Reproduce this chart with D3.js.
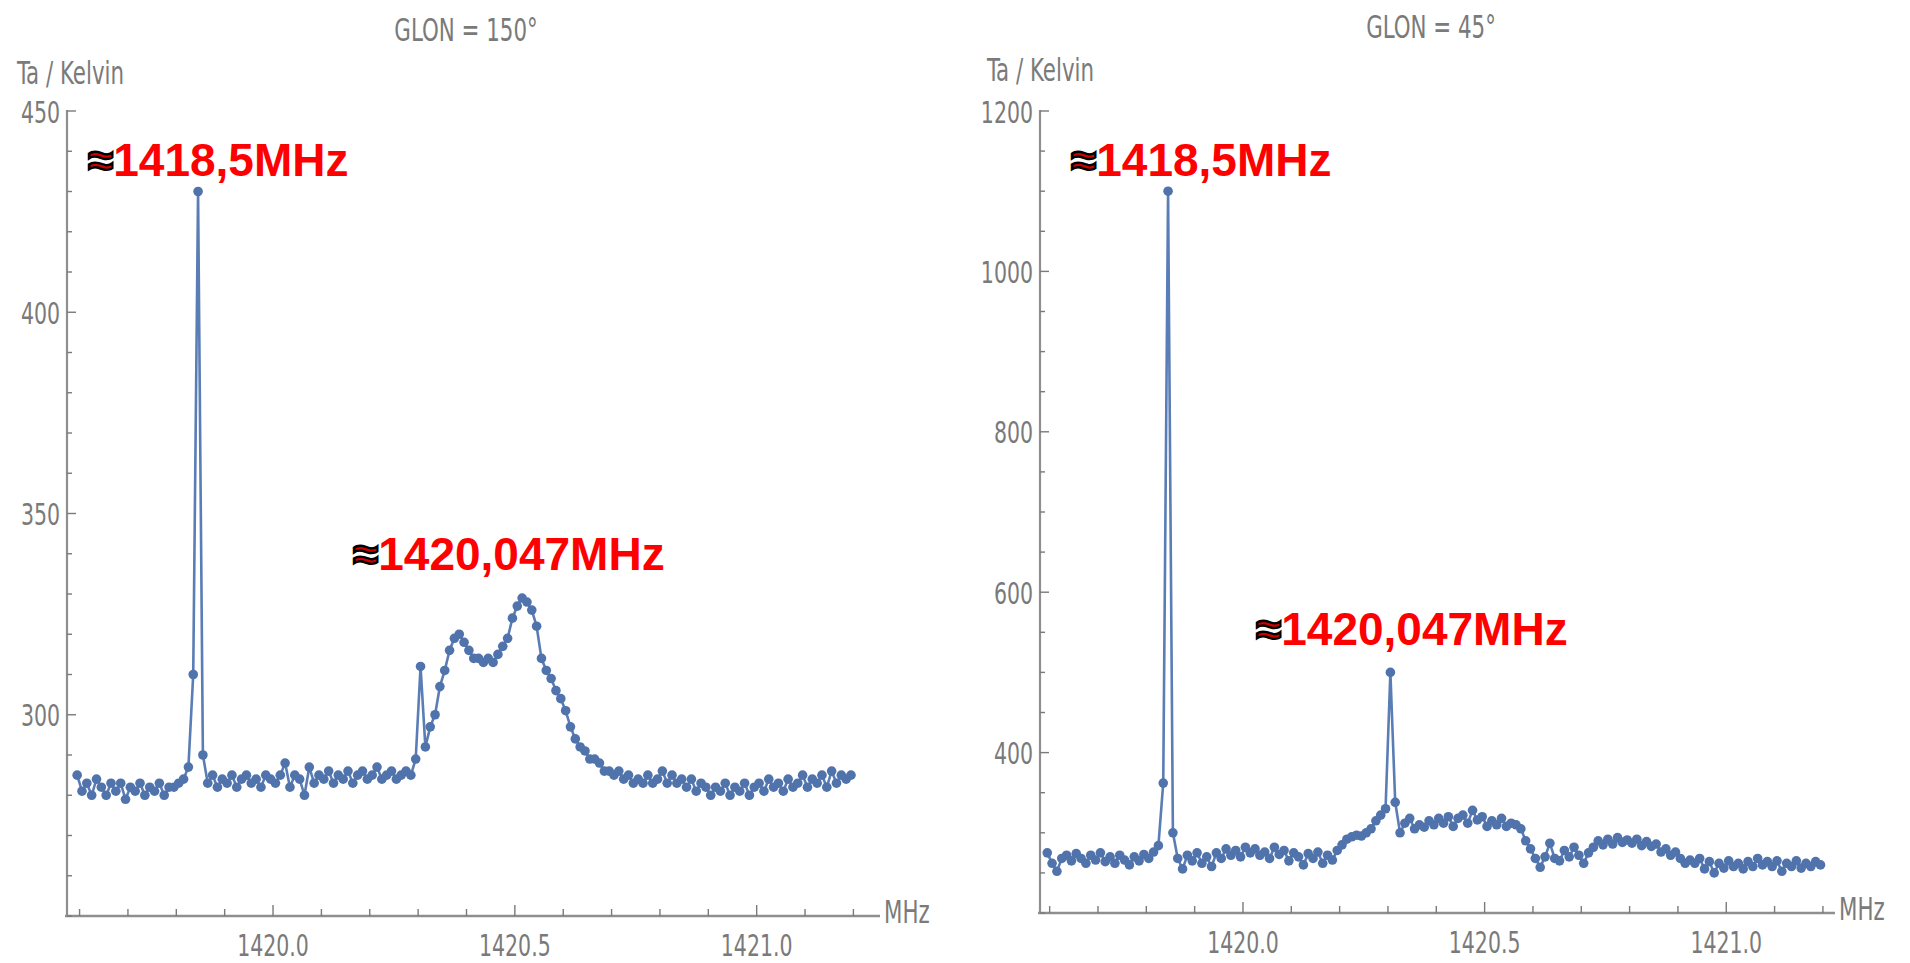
<!DOCTYPE html>
<html>
<head>
<meta charset="utf-8">
<script src="https://cdn.jsdelivr.net/npm/d3@7"></script>
<style>
  html, body { margin: 0; padding: 0; background: #ffffff; }
  svg { display: block; }
</style>
</head>
<body>
<svg id="chart" width="1910" height="963"></svg>
<script>
// ---------------- DATA ----------------
// Frequency channels (MHz): first channel and channel width
const freqStart = 1419.595;
const freqStep = 0.01;

// Antenna temperature (K), GLON = 150°
const ta150 = [
  285, 281, 283, 280, 284, 282, 280, 283, 281, 283,
  279, 282, 281, 283, 280, 282, 281, 283, 280, 282,
  282, 283, 284, 287, 310, 430, 290, 283, 285, 282,
  284, 283, 285, 282, 284, 285, 283, 284, 282, 285,
  284, 283, 285, 288, 282, 285, 284, 280, 287, 283,
  285, 284, 286, 283, 285, 284, 286, 283, 285, 286,
  284, 285, 287, 284, 285, 286, 284, 285, 286, 285,
  289, 312, 292, 297, 300, 307, 311, 316, 319, 320,
  318, 316, 314, 314, 313, 314, 313, 315, 317, 319,
  324, 327, 329, 328, 326, 322, 314, 311, 309, 306,
  304, 301, 297, 294, 292, 291, 289, 289, 288, 286,
  286, 285, 286, 284, 285, 283, 284, 283, 285, 283,
  284, 286, 283, 285, 283, 284, 282, 284, 281, 283,
  282, 280, 282, 281, 283, 280, 282, 281, 283, 280,
  282, 283, 281, 284, 282, 283, 281, 284, 282, 283,
  285, 282, 284, 283, 285, 282, 286, 283, 285, 284,
  285
];

// Antenna temperature (K), GLON = 45°
const ta45 = [
  275, 262, 252, 268, 272, 265, 274, 268, 262, 272,
  266, 275, 264, 270, 262, 272, 266, 260, 270, 265,
  273, 268, 276, 284, 362, 1100, 300, 268, 255, 272,
  265, 275, 262, 270, 258, 275, 268, 280, 272, 278,
  270, 282, 275, 280, 272, 276, 268, 282, 273, 278,
  265, 275, 270, 260, 274, 268, 276, 262, 272, 266,
  278, 285, 292, 295, 297, 296, 300, 305, 315, 322,
  330, 500, 338, 300, 312, 318, 305, 310, 307, 315,
  310, 318, 312, 320, 308, 318, 322, 312, 328, 316,
  320, 308, 315, 310, 318, 308, 312, 310, 305, 290,
  280, 268, 257, 270, 287, 268, 265, 278, 270, 282,
  272, 262, 275, 282, 290, 285, 292, 286, 294, 288,
  291, 287, 292, 284, 289, 283, 286, 276, 280, 272,
  276, 268, 262, 266, 262, 268, 255, 264, 250, 262,
  256, 265, 258, 262, 255, 264, 258, 268, 260, 264,
  258, 265, 252, 262, 258, 265, 256, 262, 258, 264,
  260
];

// Panel texts
const panelTitles = ["GLON = 150°", "GLON = 45°"];
const yAxisLabel = "Ta / Kelvin";
const xAxisLabel = "MHz";
const xMajorTicks = [1420.0, 1420.5, 1421.0];
const yMajorTicks150 = [300, 350, 400, 450];
const yMajorTicks45 = [400, 600, 800, 1000, 1200];
const lineLabels = ["1418,5MHz", "1420,047MHz"];

// ---------------- DRAWING ----------------
const svg = d3.select("#chart");

const GREY = "#7a7a7a";
const AXIS = "#8f8f8f";
const LINE = "#5a7db6";
const MARK = "#5073ac";
const FONT = "'Liberation Sans Narrow', 'DejaVu Sans Condensed', 'Liberation Sans', sans-serif";
const STRETCH = 1.25;

function greyText(g, x, y, txt, anchor, size) {
  g.append("text")
    .attr("transform", `translate(${x},${y}) scale(0.95,${STRETCH})`)
    .attr("text-anchor", anchor)
    .attr("dominant-baseline", "central")
    .attr("font-family", FONT)
    .attr("font-size", size)
    .attr("fill", GREY)
    .text(txt);
}

function panel(cfg) {
  const g = svg.append("g");
  const x = d3.scaleLinear().domain(cfg.xDomain).range([cfg.left, cfg.right]);
  const y = d3.scaleLinear().domain(cfg.yDomain).range([cfg.bottom, cfg.top]);
  const x0 = x(cfg.xDomain[0]);
  const y0 = y(cfg.yDomain[0]);

  // x axis line
  g.append("line").attr("x1", x0 - 2).attr("x2", cfg.right).attr("y1", y0).attr("y2", y0)
    .attr("stroke", AXIS).attr("stroke-width", 2.6);
  // y axis line
  g.append("line").attr("x1", x0).attr("x2", x0).attr("y1", y0).attr("y2", y(cfg.yDomain[1]) - 1)
    .attr("stroke", AXIS).attr("stroke-width", 2.2);

  // x ticks (minor every 0.1, longer at majors)
  const xMinor = d3.range(Math.ceil(cfg.xDomain[0] * 10), Math.floor(cfg.xDomain[1] * 10) + 1).map(d => d / 10);
  g.selectAll(".xminor").data(xMinor).join("line")
    .attr("x1", d => x(d)).attr("x2", d => x(d))
    .attr("y1", y0).attr("y2", d => y0 - (xMajorTicks.some(m => Math.abs(m - d) < 1e-6) ? 11 : 7))
    .attr("stroke", "#7a7a7a").attr("stroke-width", 1.4);
  xMajorTicks.forEach(t => greyText(g, x(t), y0 + 29, t.toFixed(1), "middle", 24));

  // y ticks
  const yMinor = d3.range(cfg.yDomain[0], cfg.yDomain[1] + 0.001, cfg.yMinorStep);
  g.selectAll(".yminor").data(yMinor).join("line")
    .attr("x1", x0).attr("x2", d => x0 + (cfg.yMajor.includes(d) ? 9 : 5))
    .attr("y1", d => y(d)).attr("y2", d => y(d))
    .attr("stroke", "#7a7a7a").attr("stroke-width", 1.4);
  cfg.yMajor.forEach(t => greyText(g, x0 - 7, y(t) + 1, String(t), "end", 24));

  // axis labels & title
  greyText(g, cfg.yLabelX, cfg.yLabelY, yAxisLabel, "start", 25);
  greyText(g, cfg.right + 4, y0 - 4, xAxisLabel, "start", 25);
  greyText(g, cfg.titleX, cfg.titleY, cfg.title, "middle", 25);

  // data
  const pts = cfg.values.map((v, i) => [freqStart + i * freqStep, v]);
  g.append("path").datum(pts)
    .attr("fill", "none").attr("stroke", LINE).attr("stroke-width", 2.6)
    .attr("stroke-linejoin", "round")
    .attr("d", d3.line().x(d => x(d[0])).y(d => y(d[1])));
  g.selectAll(".pt").data(pts).join("circle")
    .attr("cx", d => x(d[0])).attr("cy", d => y(d[1])).attr("r", 4.8)
    .attr("fill", MARK);

  // annotations
  cfg.notes.forEach(n => {
    const t = g.append("text")
      .attr("x", n.x).attr("y", n.y)
      .attr("font-family", "'Liberation Sans', Arial, sans-serif")
      .attr("font-weight", "bold")
      .attr("font-size", 46);
    t.append("tspan").text("≈")
      .attr("fill", "#d00000").attr("stroke", "#000").attr("stroke-width", 2.4);
    t.append("tspan").text(n.text).attr("fill", "#ff0000");
  });
}

panel({
  xDomain: [1419.574, 1421.255], yDomain: [250, 450],
  left: 67, right: 880, top: 111, bottom: 916,
  yMajor: yMajorTicks150, yMinorStep: 10,
  values: ta150, title: panelTitles[0],
  titleX: 466, titleY: 30, yLabelX: 17, yLabelY: 73,
  notes: [
    { x: 88, y: 176, text: lineLabels[0] },
    { x: 353, y: 570, text: lineLabels[1] }
  ]
});

panel({
  xDomain: [1419.58, 1421.225], yDomain: [200, 1200],
  left: 1040, right: 1835, top: 111, bottom: 913,
  yMajor: yMajorTicks45, yMinorStep: 50,
  values: ta45, title: panelTitles[1],
  titleX: 1431, titleY: 27, yLabelX: 987, yLabelY: 70,
  notes: [
    { x: 1071, y: 176, text: lineLabels[0] },
    { x: 1256, y: 645, text: lineLabels[1] }
  ]
});
</script>
</body>
</html>
